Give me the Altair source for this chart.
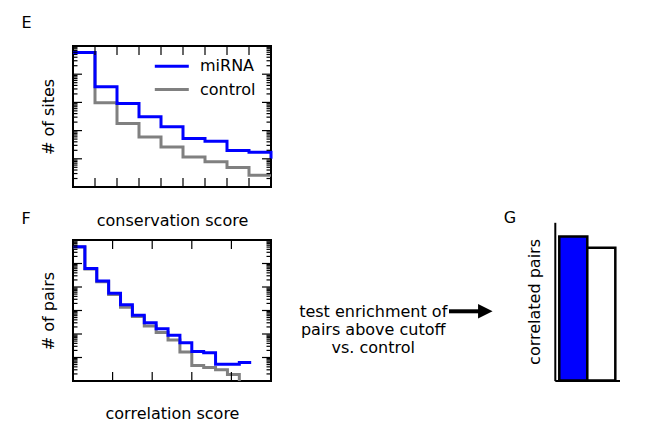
import altair as alt
import pandas as pd

FONT = "DejaVu Sans"
BLUE = "#0000ff"
GRAY = "#808080"

# ---------------- Panel E : # of sites vs conservation score ----------------
e_edges = [0, 1, 2, 3, 4, 5, 6, 7, 8, 9]
e_mirna = [59000, 3600, 910, 310, 138, 52, 42, 19.5, 17, 10]
e_control = [59000, 980, 178, 59, 26, 11.7, 7.8, 4.9, 2.6, 2.6]
e_xdomain = [0, 9]
e_xticks = [1, 2, 3, 4, 5, 6, 7, 8]
e_ydomain = [1, 100000]
e_ymajor = [10, 100, 1000, 10000]

# ---------------- Panel F : # of pairs vs correlation score ----------------
f_edges_mirna = [0, 0.06, 0.12, 0.18, 0.24, 0.30, 0.36, 0.42, 0.48, 0.54,
                 0.60, 0.66, 0.72, 0.78, 0.84, 0.90]
f_mirna = [513000, 61700, 17800, 5370, 1740, 631, 302, 166, 89, 42,
           18, 16, 5.2, 5.2, 6.2, 6.2]
f_edges_control = [0, 0.06, 0.12, 0.18, 0.24, 0.30, 0.36, 0.42, 0.48, 0.54,
                   0.60, 0.66, 0.72, 0.78, 0.84]
f_control = [501000, 58900, 16600, 4790, 1380, 550, 219, 115, 56, 17,
             4.6, 3.8, 3.0, 1.9, 1]
f_xdomain = [0, 1]
f_xticks = [0.2, 0.4, 0.6, 0.8]
f_ydomain = [1, 1000000]
f_ymajor = [10, 100, 1000, 10000, 100000]

# ---------------- Panel G : correlated pairs ----------------
g_groups = ["miRNA", "control"]
g_values = [0.91, 0.84]
g_fills = [BLUE, "#ffffff"]

series_names = ["miRNA", "control"]
series_colors = [BLUE, GRAY]
annot_lines = ["test enrichment of", "pairs above cutoff", "vs. control"]

W, H = 198, 141
MAJ, MIN = 9, 4.5


def minor_ticks(domain):
    out = []
    k = 0
    while 10 ** k < domain[1]:
        for m in range(2, 10):
            v = m * 10 ** k
            if domain[0] < v < domain[1]:
                out.append(v)
        k += 1
    return out


def text_layer(txt, x, y, **kw):
    return alt.Chart(pd.DataFrame({"t": [txt]})).mark_text(
        font=FONT, fontSize=16, color="black", **kw
    ).encode(text="t:N", x=alt.value(x), y=alt.value(y))


def step_panel(edges_m, vals_m, edges_c, vals_c, xdomain, xticks, ydomain,
               ymajor, xtitle, ytitle, xtpad, label, label_y, legend):
    xs = alt.Scale(domain=xdomain, nice=False, zero=False)
    ys = alt.Scale(type="log", domain=ydomain, nice=False)
    color_scale = alt.Scale(domain=series_names, range=series_colors)

    dfc = pd.DataFrame({"x": edges_c, "y": vals_c, "series": "control"})
    dfm = pd.DataFrame({"x": edges_m, "y": vals_m, "series": "miRNA"})

    xaxis = alt.Axis(title=xtitle, domain=False, ticks=False, labels=False,
                     grid=False, titlePadding=xtpad)
    yaxis = alt.Axis(title=ytitle, domain=False, ticks=False, labels=False,
                     grid=False, titlePadding=17)

    def line(df, lg):
        return alt.Chart(df).mark_line(
            interpolate="step-after", strokeWidth=3
        ).encode(
            x=alt.X("x:Q", scale=xs, axis=xaxis),
            y=alt.Y("y:Q", scale=ys, axis=yaxis),
            color=alt.Color("series:N", scale=color_scale, legend=lg),
        )

    def hticks(vals, x0, x1):
        return alt.Chart(pd.DataFrame({"y": vals})).mark_rule(
            color="black", strokeWidth=1.2
        ).encode(y=alt.Y("y:Q", scale=ys, axis=yaxis),
                 x=alt.value(x0), x2=alt.value(x1))

    def vticks(vals, y0, y1):
        return alt.Chart(pd.DataFrame({"x": vals})).mark_rule(
            color="black", strokeWidth=1.2
        ).encode(x=alt.X("x:Q", scale=xs, axis=xaxis),
                 y=alt.value(y0), y2=alt.value(y1))

    mins = minor_ticks(ydomain)
    layers = [
        line(dfc, legend), line(dfm, legend),
        hticks(ymajor, 0, MAJ), hticks(ymajor, W - MAJ, W),
        hticks(mins, 0, MIN), hticks(mins, W - MIN, W),
        vticks(xticks, 0, MAJ), vticks(xticks, H - MAJ, H),
        text_layer(label, -51.4, label_y, align="left", baseline="alphabetic"),
    ]
    return layers


legend_e = alt.Legend(
    orient="none", legendX=80.3, legendY=9.8, title=None, padding=0,
    symbolType="stroke", symbolSize=1156, symbolStrokeWidth=3,
    labelFont=FONT, labelFontSize=16, labelColor="black", labelOffset=9.7,
    clipHeight=21, rowPadding=2.3,
)

e_layers = step_panel(e_edges, e_mirna, e_edges, e_control, e_xdomain,
                      e_xticks, e_ydomain, e_ymajor, "conservation score",
                      "# of sites", 25, "E", -18, legend_e)
# invisible anchor fixing the top-left corner of the drawing
anchor = alt.Chart(pd.DataFrame({"a": [0]})).mark_rule(opacity=0).encode(
    x=alt.value(-63.5), x2=alt.value(-63.5), y=alt.value(-36.7), y2=alt.value(-36.7)
)
E = alt.layer(*e_layers, anchor).properties(
    width=W, height=H, view=alt.ViewBackground(stroke="black", strokeWidth=2)
)

f_layers = step_panel(f_edges_mirna, f_mirna, f_edges_control, f_control,
                      f_xdomain, f_xticks, f_ydomain, f_ymajor,
                      "correlation score", "# of pairs", 24.5, "F", -16, None)
F = alt.layer(*f_layers).properties(
    width=W, height=H, view=alt.ViewBackground(stroke="black", strokeWidth=2)
)

# ---------------- G ----------------
gdf = pd.DataFrame({"group": g_groups, "value": g_values, "fill": g_fills})
bars = alt.Chart(gdf).mark_bar(stroke="black", strokeWidth=2.5).encode(
    x=alt.X("group:N", sort=g_groups,
            scale=alt.Scale(paddingInner=0, paddingOuter=0.16),
            axis=alt.Axis(title=None, labels=False, ticks=False, grid=False,
                          domainColor="black", domainWidth=2)),
    y=alt.Y("value:Q", scale=alt.Scale(domain=[0, 1], nice=False),
            axis=alt.Axis(title="correlated pairs", labels=False, ticks=False,
                          grid=False, domainColor="black", domainWidth=2,
                          titlePadding=12.5)),
    fill=alt.Fill("fill:N", scale=None),
)
annot = alt.Chart(pd.DataFrame({"a": [0]})).mark_text(
    text=annot_lines, font=FONT, fontSize=16, color="black", align="center",
    baseline="middle", lineHeight=18.3
).encode(x=alt.value(-181.6), y=alt.value(89.2))
shaft = alt.Chart(pd.DataFrame({"a": [0]})).mark_rule(
    color="black", strokeWidth=4
).encode(x=alt.value(-105.8), x2=alt.value(-74.5), y=alt.value(89))
head = alt.Chart(pd.DataFrame({"a": [0]})).mark_point(
    shape="M -1 -1 L 1 0 L -1 1 Z", filled=True, color="black", opacity=1,
    size=210, strokeWidth=0
).encode(x=alt.value(-69.5), y=alt.value(89))
g_label = text_layer("G", -51, 1, align="left", baseline="alphabetic")

G = alt.layer(bars, annot, shaft, head, g_label).properties(width=65, height=158.3)

spacer = alt.Chart(pd.DataFrame({"a": [0]})).mark_point(opacity=0).encode(
    x=alt.value(0), y=alt.value(0)
).properties(width=65, height=158)

left = alt.vconcat(E, F, spacing=53, bounds="flush")
right = alt.vconcat(spacer, G, spacing=18.3, bounds="flush")

chart = alt.hconcat(left, right, spacing=481.8, bounds="flush", padding=0).configure_view(
    stroke=None
).configure_axis(
    titleFont=FONT, titleFontSize=16, titleFontWeight="normal", titleColor="black",
    grid=False,
).resolve_scale(color="independent")

chart.save("out.html", embed_options={"renderer": "svg", "actions": False})
